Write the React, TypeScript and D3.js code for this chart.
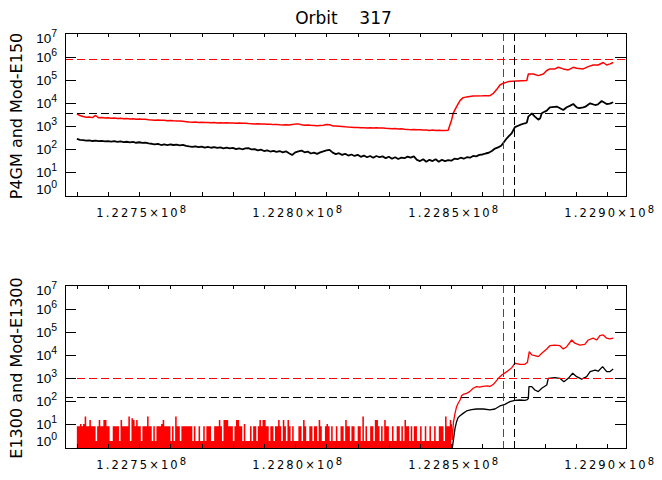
import * as d3 from "d3";

type Pt = [number, number];

// Times are kept in kiloseconds; the axis prints them as 1.22xx×10^8 s.
const xMajor = [122750, 122800, 122850, 122900];
const xMajorLabels = ["1.2275", "1.2280", "1.2285", "1.2290"];
const xMinor = [122730, 122740, 122750, 122760, 122770, 122780, 122790, 122800, 122810,
    122820, 122830, 122840, 122850, 122860, 122870, 122880, 122890, 122900];
const yExps = [0, 1, 2, 3, 4, 5, 6, 7];

// first sample of the 1 ks noisy stretches (top panel)
const noisyStart = 122730;

const topBlackNoisy = [
    276, 250, 247, 235, 240, 224, 232, 220, 228, 215,
    222, 212, 220, 205, 214, 200, 208, 196, 204, 188,
    198, 186, 192, 178, 170, 160, 168, 150, 160, 148,
    158, 150, 156, 146, 152, 138, 130, 124, 132, 120,
    128, 116, 124, 114, 122, 112, 118, 108, 116, 106,
    112, 100, 108, 98, 106, 110, 96, 100, 88, 94,
    82, 88, 78, 84, 76, 82, 72, 80, 66, 55,
    72, 80, 86, 72, 78, 64, 70, 62, 72, 80,
    88, 92, 70, 60, 66, 56, 62, 52, 58, 50,
    56, 46, 52, 44, 50, 42, 50, 44, 48, 40,
    46, 38, 44, 37, 42, 40, 47, 42, 48, 34,
    30, 36, 28, 34, 30, 36, 28, 34, 30, 33,
    31, 38, 36, 42, 38, 44, 42, 50, 48, 56,
    58, 64, 69, 82, 105, 118, 140,
];
const topBlackTail: Pt[] = [
    [122867.8, 295], [122869.4, 500], [122870.4, 900], [122872, 1120], [122873.6, 1330],
    [122874.2, 1400], [122874.7, 2600], [122875.8, 3600], [122876.8, 2600], [122877.9, 1900],
    [122878.5, 2200], [122879, 3600], [122880, 4300], [122880.6, 4700], [122881.6, 6600],
    [122883.8, 7100], [122885.9, 5000], [122887, 6600], [122888, 7600], [122889.1, 9200],
    [122890.2, 6600], [122891, 6000], [122892.3, 6600], [122893, 7000], [122894.5, 9800],
    [122896.1, 8300], [122897, 8800], [122898.2, 12400], [122899.8, 9200], [122900.8, 9500],
    [122901.9, 11000],
];

const topRedNoisy = [
    3400, 2900, 2600, 2450, 2500, 2340, 2900, 2300, 2380, 2250,
    2300, 2200, 2260, 2150, 2200, 2080, 2120, 2040, 2080, 2000,
    2050, 1980, 2000, 1900, 1850, 1800, 1840, 1780, 1800, 1720,
    1760, 1700, 1680, 1650, 1620, 1560, 1500, 1470, 1500, 1440,
    1460, 1420, 1450, 1400, 1420, 1380, 1410, 1370, 1390, 1350,
    1380, 1330, 1350, 1320, 1340, 1300, 1280, 1250, 1260, 1230,
    1220, 1190, 1200, 1160, 1180, 1140, 1120, 1150, 1120, 1180,
    1220, 1250, 1150, 1100, 1120, 1080, 1060, 1040, 1070, 1100,
    1180, 1150, 1020, 1000, 980, 960, 930, 910, 900, 880,
    870, 850, 840, 830, 840, 820, 840, 820, 830, 800,
    790, 770, 780, 750, 760, 730, 720, 700, 710, 690,
    700, 670, 680, 650, 670, 640, 660, 650, 640, 660,
];
const topRedTail: Pt[] = [
    [122850.1, 1850], [122850.6, 3600], [122851.7, 7100], [122852.8, 12900], [122853.8, 17400],
    [122855.4, 19100], [122857, 20400], [122860, 20800], [122862.4, 21200], [122863.5, 27000],
    [122864.6, 40000], [122865.6, 62000], [122866.7, 74000], [122868.3, 87000], [122871, 93000],
    [122874.2, 96000], [122874.7, 187000], [122876.3, 187000], [122877.9, 158000], [122879.5, 187000],
    [122880.6, 265000], [122881.6, 311000], [122883.2, 311000], [122884.3, 365000], [122885.9, 311000],
    [122887.5, 280000], [122889.1, 365000], [122890.2, 335000], [122892.3, 311000], [122893.9, 390000],
    [122895.5, 460000], [122897.1, 460000], [122898.7, 590000], [122899.8, 460000], [122900.9, 515000],
    [122901.9, 590000],
];

// bottom red before the rise: per-pixel maximum of the count noise, 0.5 ks bins
const botNoiseStart = 122730;
const botNoiseStep = 0.5;
const botRedNoise = [
    8, 8, 10, 8, 10, 21, 8, 8, 15, 8, 8, 8, 1.8, 8, 15, 8, 8, 15, 15, 8,
    8, 1.8, 1.8, 8, 8, 8, 8, 1.8, 15, 8, 8, 8, 8, 21, 1.8, 18, 15, 8, 15, 8,
    8, 1.8, 8, 8, 8, 21, 8, 8, 1.8, 8, 1.8, 8, 8, 8, 10, 15, 8, 8, 8, 8,
    1.8, 8, 1.8, 21, 8, 8, 1.8, 8, 8, 8, 8, 8, 8, 8, 1.8, 8, 1.8, 1.8, 8, 1.8,
    1.8, 8, 1.8, 8, 8, 8, 1.8, 1.8, 8, 8, 8, 15, 8, 1.8, 15, 15, 15, 8, 8, 8,
    1.8, 8, 15, 15, 8, 8, 1.8, 10, 1.8, 1.8, 1.8, 8, 1.8, 8, 8, 1.8, 8, 15, 8, 15,
    15, 8, 8, 1.8, 8, 8, 1.8, 8, 8, 15, 8, 1.8, 15, 8, 1.8, 15, 8, 1.8, 8, 1.8,
    1.8, 1.8, 8, 8, 1.8, 15, 8, 1.8, 1.8, 8, 8, 1.8, 8, 8, 1.8, 15, 8, 1.8, 1.8, 8,
    10, 8, 1.8, 8, 1.8, 1.8, 8, 1.8, 1.8, 8, 8, 1.8, 15, 8, 8, 1.8, 8, 8, 1.8, 1.8,
    8, 8, 1.8, 21, 1.8, 8, 1.8, 1.8, 8, 8, 1.8, 15, 15, 8, 1.8, 8, 1.8, 15, 8, 8,
    1.8, 1.8, 8, 1.8, 1.8, 8, 8, 1.8, 8, 1.8, 15, 8, 8, 1.8, 8, 1.8, 8, 8, 1.8, 1.8,
    8, 1.8, 1.8, 8, 1.8, 1.8, 8, 1.8, 1.8, 8, 1.8, 1.8, 8, 8, 8, 1.8, 21, 8, 8, 15,
    10,
];
const botRedTail: Pt[] = [
    [122850.0, 10], [122850.3, 2], [122850.7, 12], [122851.2, 29], [122851.7, 57],
    [122852.2, 80], [122852.8, 111], [122853.3, 171], [122853.8, 195], [122854.9, 217],
    [122855.9, 257], [122857, 360], [122858.1, 427], [122859.1, 400], [122860.1, 440],
    [122861.7, 455], [122862.4, 430], [122863.5, 537], [122865.1, 980], [122866.2, 1370],
    [122867.8, 1910], [122869.4, 2830], [122870.4, 4440], [122872, 4000], [122873.6, 4000],
    [122874.4, 4900], [122875, 14100], [122875.8, 10300], [122876.8, 9600], [122877.9, 8600],
    [122879, 12000], [122880.6, 18600], [122881.6, 25800], [122883.2, 27600], [122884.8, 25800],
    [122885.9, 18600], [122887, 23400], [122888.6, 45700], [122889.6, 33100], [122891.2, 27600],
    [122892.8, 29500], [122893.9, 45700], [122895.5, 55000], [122896.6, 45700], [122897.6, 70900],
    [122898.7, 75900], [122899.8, 55000], [122900.8, 51000], [122901.9, 55000],
];
const botBlack: Pt[] = [
    [122850.0, 0.5], [122850.45, 1.2], [122850.9, 3.3], [122851.2, 6.5], [122851.7, 12.6],
    [122852.2, 19], [122852.8, 23], [122853.8, 29], [122854.9, 37], [122856.5, 42],
    [122858.1, 45], [122860.3, 45], [122862.4, 41], [122864, 45], [122865.6, 61],
    [122867.2, 72], [122868.8, 94], [122870.4, 108], [122872, 111], [122873.6, 108],
    [122874.4, 115], [122874.7, 131], [122874.9, 427], [122875.8, 427], [122876.8, 302],
    [122877.9, 257], [122879, 360], [122880.6, 500], [122881.1, 980], [122883.2, 1050],
    [122884.8, 980], [122886.1, 700], [122887.5, 980], [122888.9, 1620], [122890.2, 1150],
    [122891.8, 910], [122893.4, 1150], [122894.5, 1910], [122896.1, 2240], [122897.1, 2000],
    [122898.5, 3160], [122899.8, 1910], [122900.8, 1910], [122901.9, 2500],
];

// dashed reference levels [red, black] and the two event times [red, black]
const topLevels = [8.2e5, 3690];
const bottomLevels = [1000, 150];
const markerTimes = [122866.7, 122870.2];
const pairColors = ["#ff0000", "#000000"];

const W = 662, H = 480;
const LEFT = 65, RIGHT = 626;
const LABEL_FONT = "'DejaVu Sans', sans-serif";
const TICK_FONT = "'Liberation Sans', Arial, sans-serif";

const x = d3.scaleLinear().domain([122726.2, 122906.0]).range([LEFT, RIGHT]);

const withTimes = (vals: number[], t0: number, step: number): Pt[] => vals.map((v, i) => [t0 + i * step, v]);

type Series = { points: Pt[]; color: string; width: number };

function Panel({ y0, y1, id, label, series, envelope, levels }: {
    y0: number; y1: number; id: string; label: string; series: Series[];
    envelope?: number[]; levels: number[];
}) {
    const y = d3.scaleLog().domain([0.9, 1.14e7]).range([y1, y0]);
    const line = d3.line<Pt>().x(d => x(d[0])).y(d => y(d[1]));
    const area = d3.area<number>()
        .x((_, i) => x(botNoiseStart + i * botNoiseStep))
        .y0(y1 + 2).y1(v => y(v))
        .curve(d3.curveStepAfter);

    return (
        <g>
            <defs>
                <clipPath id={id}><rect x={LEFT} y={y0} width={RIGHT - LEFT} height={y1 - y0} /></clipPath>
            </defs>
            <g clipPath={`url(#${id})`}>
                {envelope && <path d={area(envelope) ?? ""} fill="#ff0000" />}
                {series.map((s, i) => (
                    <path key={i} d={line(s.points) ?? ""} fill="none" stroke={s.color} strokeWidth={s.width}
                        strokeLinejoin="bevel" />
                ))}
                {levels.map((v, i) => (
                    <line key={"h" + i} x1={LEFT} x2={RIGHT} y1={Math.round(y(v)) + 0.5} y2={Math.round(y(v)) + 0.5}
                        stroke={pairColors[i]} strokeDasharray="8,4" shapeRendering="crispEdges" />
                ))}
                {markerTimes.map((t, i) => (
                    <line key={"v" + i} x1={Math.round(x(t)) + 0.5} x2={Math.round(x(t)) + 0.5} y1={y0} y2={y1}
                        stroke={pairColors[i]} strokeDasharray="8,4" shapeRendering="crispEdges" />
                ))}
            </g>
            <rect x={LEFT + 0.5} y={y0 + 0.5} width={RIGHT - LEFT} height={y1 - y0} fill="none" stroke="#000"
                shapeRendering="crispEdges" />
            {/* x ticks on top and bottom edges */}
            {xMinor.map(t => (
                <g key={t} stroke="#000" shapeRendering="crispEdges">
                    <line x1={Math.round(x(t)) + 0.5} x2={Math.round(x(t)) + 0.5} y1={y1} y2={y1 - 4} />
                    <line x1={Math.round(x(t)) + 0.5} x2={Math.round(x(t)) + 0.5} y1={y0} y2={y0 + 4} />
                </g>
            ))}
            {/* y ticks on left and right edges */}
            {yExps.filter(e => e > 0 && e < 7).map(e => (
                <g key={e} stroke="#000" shapeRendering="crispEdges">
                    <line x1={LEFT} x2={LEFT + 11} y1={Math.round(y(10 ** e)) + 0.5} y2={Math.round(y(10 ** e)) + 0.5} />
                    <line x1={RIGHT} x2={RIGHT - 11} y1={Math.round(y(10 ** e)) + 0.5} y2={Math.round(y(10 ** e)) + 0.5} />
                </g>
            ))}
            {yExps.map(e => (
                <text key={e} x={57} y={y(10 ** e) + 4.6 + (e === 7 ? 4 : e === 0 ? -6 : 0)} textAnchor="end"
                    fontFamily={TICK_FONT} fontSize={13.5}>
                    10<tspan dy={-6} fontSize={10.5}>{e}</tspan>
                </text>
            ))}
            {xMajor.map((t, i) => (
                <text key={t} x={x(t) + 3} y={y1 + 21} textAnchor="middle" fontFamily={LABEL_FONT} fontSize={11.5}
                    letterSpacing={2.1}>
                    {xMajorLabels[i]}×10<tspan dy={-4.5} fontSize={10}>8</tspan>
                </text>
            ))}
            <text transform={`translate(21.7, ${(y0 + y1) / 2 + 1.5}) rotate(-90)`} textAnchor="middle"
                fontFamily={LABEL_FONT} fontSize={16}>{label}</text>
        </g>
    );
}

export default function App() {
    const topSeries: Series[] = [
        { points: [...withTimes(topRedNoisy, noisyStart, 1), ...topRedTail], color: "#ff0000", width: 1.5 },
        { points: [...withTimes(topBlackNoisy, noisyStart, 1), ...topBlackTail], color: "#000000", width: 1.8 },
    ];
    const bottomSeries: Series[] = [
        { points: botRedTail, color: "#ff0000", width: 1.3 },
        { points: botBlack, color: "#000000", width: 1.3 },
    ];

    return (
        <svg width={W} height={H} viewBox={`0 0 ${W} ${H}`}
            style={{ position: "absolute", left: 0, top: 0, background: "#fff" }}>
            <rect width={W} height={H} fill="#fff" />
            <text x={343.5} y={24} textAnchor="middle" fontFamily={LABEL_FONT} fontSize={17} xmlSpace="preserve">
                {"Orbit    317"}
            </text>
            <Panel y0={33} y1={196} id="clip-top" label="P4GM and Mod-E150" series={topSeries} levels={topLevels} />
            <Panel y0={285} y1={448} id="clip-bottom" label="E1300 and Mod-E1300" series={bottomSeries}
                envelope={botRedNoise} levels={bottomLevels} />
        </svg>
    );
}
